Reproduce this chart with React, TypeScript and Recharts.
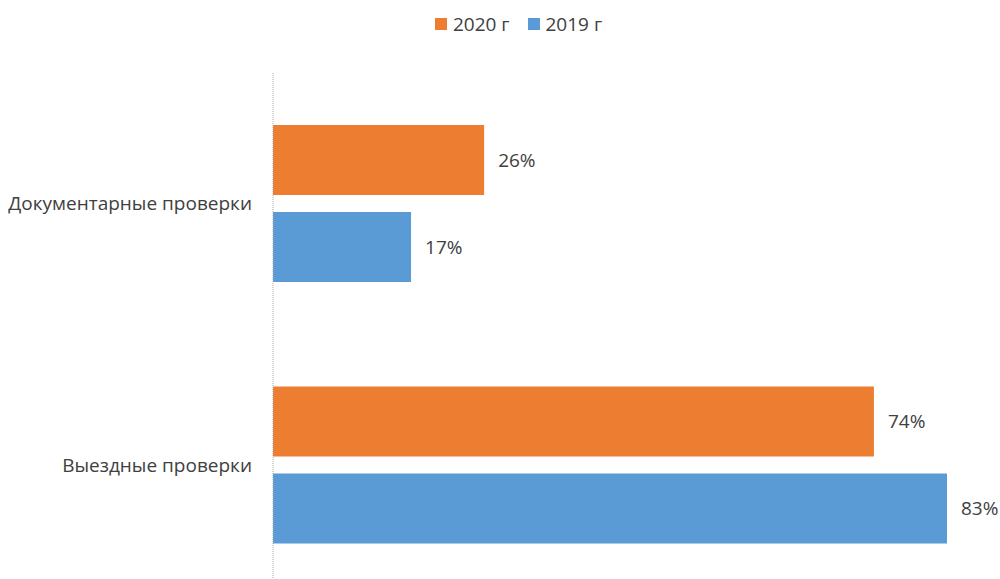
import { BarChart, Bar, XAxis, YAxis, Legend, LabelList } from "recharts";

const categories = ["Документарные проверки", "Выездные проверки"];
const values2020 = [26, 74];
const values2019 = [17, 83];
const seriesNames = ["2020 г", "2019 г"];
const seriesColors = ["#ED7D31", "#5B9BD5"];

const data = categories.map((name, i) => ({
  name,
  y2020: values2020[i],
  y2019: values2019[i],
}));

const font = "'Open Sans', sans-serif";
const textColor = "#404040";

function LegendBox() {
  return (
    <div
      style={{
        display: "flex",
        justifyContent: "center",
        alignItems: "center",
        height: 26,
        paddingLeft: 90,
      }}
    >
      {seriesNames.map((n, i) => (
        <div key={n} style={{ display: "flex", alignItems: "center", marginRight: i === 0 ? 18 : 0 }}>
          <span
            style={{
              display: "inline-block",
              width: 12,
              height: 12,
              background: seriesColors[i],
              marginRight: 6,
            }}
          />
          <span style={{ color: textColor, fontSize: 19, fontFamily: font }}>{n}</span>
        </div>
      ))}
    </div>
  );
}

export default function App() {
  return (
    <div
      style={{
        position: "fixed",
        left: 0,
        top: 0,
        width: 1000,
        height: 579,
        overflow: "hidden",
        background: "#fff",
        fontFamily: font,
      }}
    >
      <BarChart
        width={1000}
        height={601}
        data={data}
        layout="vertical"
        margin={{ top: 47, right: 53, bottom: 5, left: 0 }}
        barCategoryGap="20%"
        barGap={17}
      >
        <XAxis type="number" domain={[0, 83]} hide />
        <YAxis
          type="category"
          dataKey="name"
          width={273}
          tickLine={false}
          tickSize={0}
          tickMargin={21}
          axisLine={{ stroke: "#a6a6a6", strokeDasharray: "1 1" }}
          tick={{ fill: textColor, fontSize: 19, fontFamily: font }}
        />
        <Legend verticalAlign="top" align="center" wrapperStyle={{ top: 11 }} content={() => <LegendBox />} />
        <Bar dataKey="y2020" name={seriesNames[0]} fill={seriesColors[0]} barSize={70} isAnimationActive={false}>
          <LabelList
            dataKey="y2020"
            position="right"
            offset={14}
            formatter={(v: any) => `${v}%`}
            style={{ fill: textColor, fontSize: 19, fontFamily: font }}
          />
        </Bar>
        <Bar dataKey="y2019" name={seriesNames[1]} fill={seriesColors[1]} barSize={70} isAnimationActive={false}>
          <LabelList
            dataKey="y2019"
            position="right"
            offset={14}
            formatter={(v: any) => `${v}%`}
            style={{ fill: textColor, fontSize: 19, fontFamily: font }}
          />
        </Bar>
      </BarChart>
    </div>
  );
}
